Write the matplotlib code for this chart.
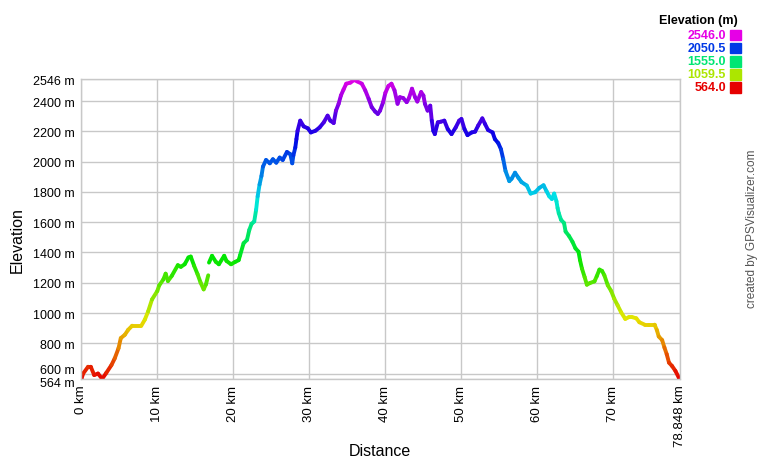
import matplotlib
matplotlib.use('Agg')
import matplotlib.pyplot as plt
from matplotlib.collections import LineCollection
from matplotlib.colors import hsv_to_rgb
from matplotlib.patches import Rectangle
from matplotlib.transforms import ScaledTranslation
import numpy as np

# Höhenprofil (km, m); nan = Lücke in der Spur
dist_km = [0.0, 0.13, 0.35, 1.0, 1.35, 1.8, 2.3, 2.85, 3.4, 4.07, 4.5, 5.0, 5.3, 5.83,
           6.27, 6.8, 8.0, 8.46, 8.9, 9.4, 10.1, 10.35, 10.9, 11.2, 11.5, 12.0, 12.8,
           13.2, 13.7, 14.2, 14.5, 14.95, 15.4, 15.8, 16.2, 16.5, 16.8, 16.85, 16.9,
           17.3, 17.8, 18.2, 18.9, 19.2, 19.8, 20.35, 20.8, 21.0, 21.45, 21.9, 22.2,
           22.5, 22.85, 23.1, 23.3, 23.55, 23.8, 24.0, 24.4, 24.9, 25.3, 25.75, 26.2,
           26.6, 27.15, 27.6, 27.85, 28.0, 28.25, 28.4, 28.55, 28.9, 29.35, 29.9, 30.3,
           30.9, 31.45, 32.0, 32.5, 32.85, 33.3, 33.6, 33.95, 34.25, 34.6, 34.95, 35.5,
           36.0, 36.4, 37.0, 37.45, 37.9, 38.3, 38.75, 39.1, 39.4, 39.8, 40.1, 40.5,
           40.9, 41.3, 41.7, 42.0, 42.45, 42.9, 43.2, 43.6, 44.0, 44.3, 44.8, 45.1,
           45.3, 45.65, 46.0, 46.2, 46.4, 46.6, 47.0, 47.4, 47.85, 48.3, 48.8, 49.35,
           49.8, 50.1, 50.5, 50.9, 51.45, 51.9, 52.3, 52.85, 53.2, 53.6, 54.2, 54.5,
           54.95, 55.3, 55.6, 55.9, 56.4, 56.7, 57.15, 57.6, 58.0, 58.7, 59.2, 59.8,
           60.35, 60.9, 61.3, 61.65, 62.0, 62.3, 62.6, 62.75, 62.9, 63.2, 63.6, 63.8,
           64.25, 64.7, 65.1, 65.5, 65.7, 65.95, 66.3, 66.6, 67.0, 67.6, 67.9, 68.25,
           68.6, 68.9, 69.35, 69.8, 70.2, 70.65, 71.1, 71.65, 72.1, 72.6, 73.1, 73.5,
           74.2, 74.8, 75.5, 75.8, 76.05, 76.5, 76.8, 77.1, 77.4, 77.8, 78.25, 78.7,
           78.848]
elev_m = [564, 567, 600, 645, 645, 590, 600, 565, 605, 656, 700, 767, 834, 856,
          889, 916, 916, 956, 1011, 1089, 1145, 1182, 1222, 1260, 1211, 1245, 1316,
          1305, 1322, 1367, 1373, 1311, 1256, 1200, 1156, 1189, 1249, np.nan, 1333,
          1378, 1338, 1322, 1378, 1344, 1322, 1338, 1349, 1383, 1461, 1483, 1549,
          1589, 1605, 1683, 1771, 1849, 1905, 1967, 2011, 1989, 2016, 1993, 2027,
          2011, 2064, 2049, 1989, 2042, 2093, 2149, 2204, 2271, 2233, 2220, 2193,
          2204, 2226, 2260, 2304, 2271, 2255, 2337, 2382, 2437, 2477, 2515, 2522,
          2540, 2530, 2515, 2471, 2415, 2360, 2331, 2315, 2337, 2393, 2455, 2500,
          2515, 2471, 2382, 2426, 2420, 2393, 2420, 2482, 2426, 2397, 2460, 2437,
          2382, 2337, 2370, 2271, 2204, 2182, 2260, 2264, 2271, 2215, 2182, 2226,
          2271, 2282, 2215, 2175, 2193, 2198, 2238, 2286, 2249, 2209, 2193, 2149,
          2122, 2082, 2016, 1938, 1871, 1887, 1927, 1893, 1865, 1842, 1789, 1798,
          1827, 1844, 1804, 1771, 1753, 1789, 1738, 1693, 1660, 1616, 1594, 1538,
          1509, 1471, 1427, 1405, 1349, 1294, 1238, 1187, 1198, 1209, 1243, 1287,
          1278, 1249, 1183, 1145, 1094, 1050, 1005, 961, 972, 972, 965, 939,
          923, 923, 923, 888, 845, 821, 772, 728, 672, 650, 617, 572,
          564]

x_ticks = [0, 10, 20, 30, 40, 50, 60, 70, 78.848]
x_labels = ['0 km', '10 km', '20 km', '30 km', '40 km', '50 km', '60 km', '70 km', '78.848 km']
y_ticks = [564, 600, 800, 1000, 1200, 1400, 1600, 1800, 2000, 2200, 2400, 2546]
y_labels = ['564 m', '600 m', '800 m', '1000 m', '1200 m', '1400 m', '1600 m',
            '1800 m', '2000 m', '2200 m', '2400 m', '2546 m']
legend_values = [2546.0, 2050.5, 1555.0, 1059.5, 564.0]

e_min, e_max = 564.0, 2546.0


def elev_color(e):
    h = (e - e_min) / (e_max - e_min) * 300.0 / 360.0
    return hsv_to_rgb((h, 1.0, 0.9))


plt.rcParams['font.family'] = ['Liberation Sans', 'DejaVu Sans']

fig = plt.figure(figsize=(7.6, 4.6), dpi=100)
ax = fig.add_axes([80.5 / 760, 1 - 380 / 460, 599.5 / 760, 300 / 460])

# Segmente bauen, Farbe nach Höhe
pts = np.column_stack([dist_km, elev_m])
segs = []
cols = []
for i in range(len(pts) - 1):
    a, b = pts[i], pts[i + 1]
    if np.isnan(a[1]) or np.isnan(b[1]):
        continue
    segs.append([a, b])
    cols.append(elev_color((a[1] + b[1]) / 2))
lc = LineCollection(segs, colors=cols, linewidths=2.8, capstyle='round', joinstyle='round')
ax.add_collection(lc)

ax.set_xlim(0, 78.848)
ax.set_ylim(564, 2546)
ax.set_xticks(x_ticks)
ax.set_xticklabels(x_labels, rotation=90, fontsize=9.5)
ax.set_yticks(y_ticks)
ax.set_yticklabels(y_labels, fontsize=9)
ax.tick_params(length=0, pad=4)
ax.grid(True, color='#c8c8c8', linewidth=1)
ax.set_axisbelow(True)
for s in ax.spines.values():
    s.set_color('#c8c8c8')
    s.set_linewidth(1)

# die zwei untersten Beschriftungen etwas auseinanderschieben
ylabs = ax.get_yticklabels()
ylabs[0].set_transform(ylabs[0].get_transform() + ScaledTranslation(0, -1.5 / 72, fig.dpi_scale_trans))
ylabs[1].set_transform(ylabs[1].get_transform() + ScaledTranslation(0, 3.5 / 72, fig.dpi_scale_trans))

# Achsentitel
fig.text(380 / 760, 1 - 452 / 460, 'Distance', ha='center', va='center', fontsize=11.5)
fig.text(17 / 760, 1 - 240 / 460, 'Elevation', ha='center', va='center',
         rotation=90, fontsize=11.5)

# Legende oben rechts
fig.text(738 / 760, 1 - 21 / 460, 'Elevation (m)', ha='right', va='center',
         fontsize=9, fontweight='bold')
for i, v in enumerate(legend_values):
    yc = 36 + i * 13.1
    c = elev_color(v)
    fig.text(726 / 760, 1 - yc / 460, '%.1f' % v, ha='right', va='center',
             fontsize=9, fontweight='bold', color=c)
    fig.patches.append(Rectangle((730 / 760, 1 - (yc + 5.3) / 460), 11 / 760, 10.6 / 460,
                                 transform=fig.transFigure, color=c))

fig.text(752 / 760, 1 - 229 / 460, 'created by GPSVisualizer.com', rotation=90,
         ha='center', va='center', fontsize=8.5, color='#555555')

fig.savefig('out.png', dpi=100)
